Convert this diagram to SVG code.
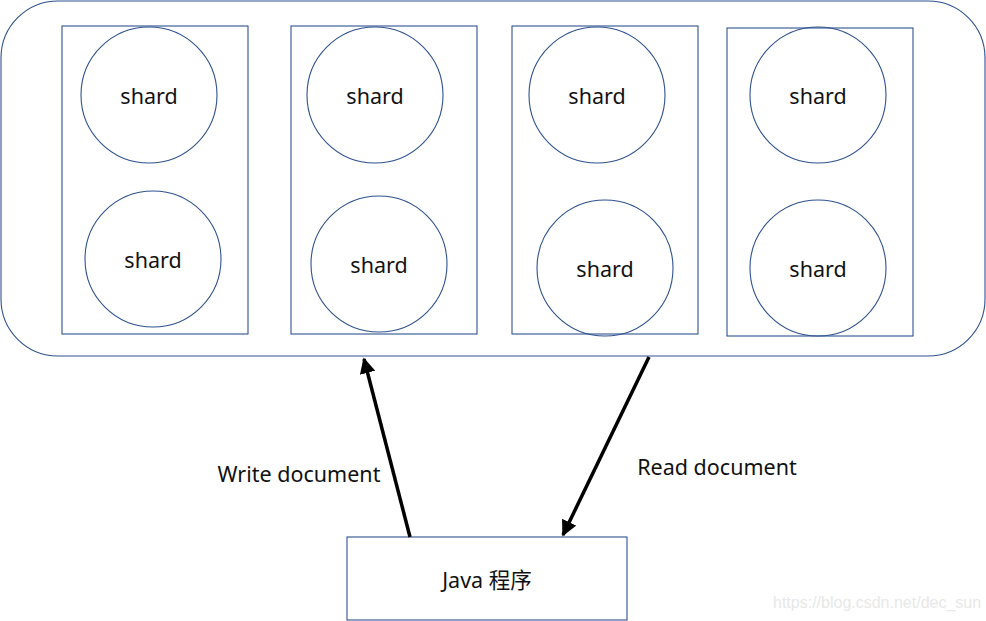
<svg xmlns="http://www.w3.org/2000/svg" width="986" height="621" viewBox="0 0 986 621">
<style>
.box{fill:none;stroke:#2f528f;stroke-width:1.1}
.t{font-family:"Noto Sans","Noto Sans CJK SC",sans-serif;font-size:21.5px;fill:#111;text-anchor:middle;dominant-baseline:central}
.a{stroke:#000;stroke-width:3.5;fill:none;marker-end:url(#ah)}
</style>
<defs>
<marker id="ah" viewBox="0 0 10 10" refX="9" refY="5" markerWidth="4.5" markerHeight="4.5" orient="auto" markerUnits="strokeWidth">
<path d="M0,0L10,5L0,10z" fill="#000"/>
</marker>
</defs>
<rect width="986" height="621" fill="#fff"/>
<g id="cluster">
<rect class="box" x="1" y="1" width="984" height="355" rx="57" ry="57"/>
</g>
<g id="col1">
<rect class="box" x="62" y="26" width="186" height="308"/>
<circle class="box" cx="149" cy="95" r="68"/><text class="t" x="149" y="95">shard</text>
<circle class="box" cx="153" cy="259" r="68"/><text class="t" x="153" y="259">shard</text>
</g>
<g id="col2">
<rect class="box" x="291" y="26" width="186" height="308"/>
<circle class="box" cx="375" cy="95" r="68"/><text class="t" x="375" y="95">shard</text>
<circle class="box" cx="379" cy="264" r="68"/><text class="t" x="379" y="264">shard</text>
</g>
<g id="col3">
<rect class="box" x="512" y="26" width="186" height="308"/>
<circle class="box" cx="597" cy="95" r="68"/><text class="t" x="597" y="95">shard</text>
<circle class="box" cx="605" cy="268" r="68"/><text class="t" x="605" y="268">shard</text>
</g>
<g id="col4">
<rect class="box" x="727" y="28" width="186" height="308"/>
<circle class="box" cx="818" cy="95" r="68"/><text class="t" x="818" y="95">shard</text>
<circle class="box" cx="818" cy="268" r="68"/><text class="t" x="818" y="268">shard</text>
</g>
<g id="java">
<rect class="box" x="347" y="537" width="280" height="83"/>
<text class="t" x="487" y="579">Java 程序</text>
</g>
<g id="connectors">
<line class="a" x1="410" y1="537" x2="364" y2="359"/>
<line class="a" x1="649" y1="357" x2="563" y2="535"/>
<text class="t" x="299" y="473">Write document</text>
<text class="t" x="717" y="466">Read document</text>
</g>
<text x="773" y="608" font-family="Liberation Sans,Arial,sans-serif" font-size="16" fill="#e8e8e8">https://blog.csdn.net/dec_sun</text>
</svg>
